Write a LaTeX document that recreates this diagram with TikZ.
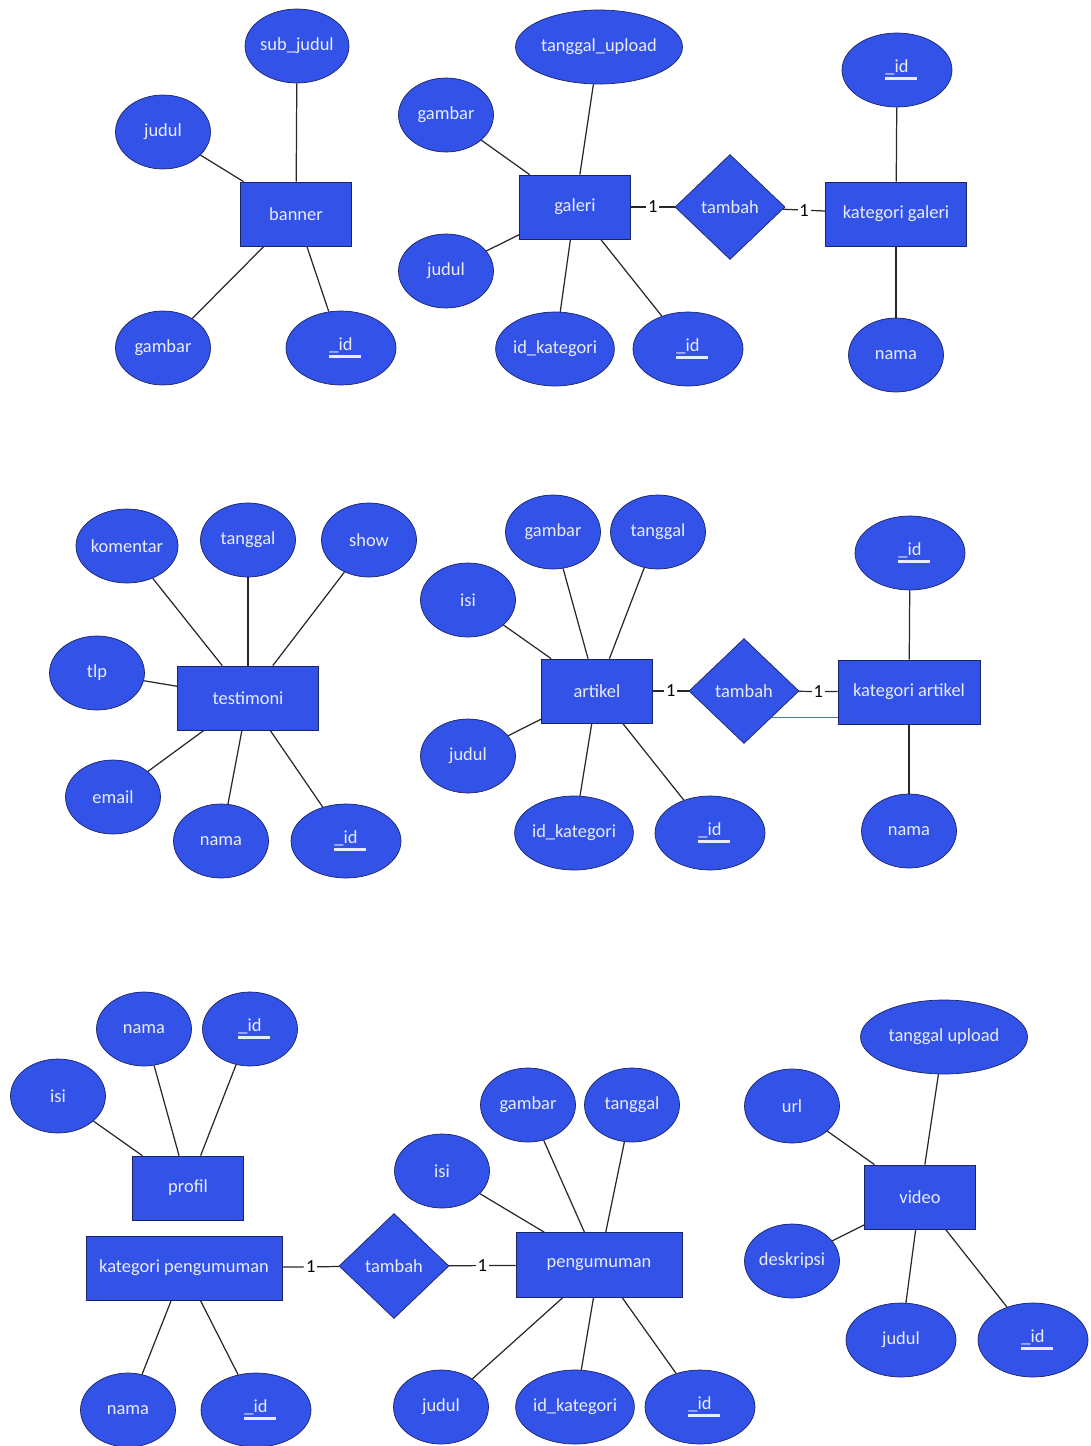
\documentclass[tikz,border=0pt]{standalone}
\usepackage{fontspec}
\setmainfont{Carlito}
\usetikzlibrary{shapes.geometric}

\definecolor{erblue}{RGB}{50,82,232}
\definecolor{erborder}{RGB}{26,36,105}
\definecolor{ertext}{RGB}{232,236,255}
\definecolor{erline}{RGB}{40,40,40}
\definecolor{erteal}{RGB}{70,120,160}

% primary key: underlined with a thick bar
\newcommand{\pkey}[1]{\makebox[0pt][l]{\rule[-4.5pt]{1.7em}{1.8pt}}\_#1}

\begin{document}
\begin{tikzpicture}[
        x=0.02cm, y=-0.02cm,
        font=\fontsize{10.5}{12}\selectfont,
        entity/.style={draw=erborder, fill=erblue, text=ertext, rectangle, minimum width=2.22cm, minimum height=1.28cm},
        attr/.style={draw=erborder, fill=erblue, text=ertext, ellipse, inner sep=0pt, minimum width=1.9cm, minimum height=1.48cm},
        keyattr/.style={attr, minimum width=2.2cm},
        relation/.style={draw=erborder, fill=erblue, text=ertext, diamond, inner sep=0pt, minimum width=2.2cm, minimum height=2.1cm},
        link/.style={draw=erline, line width=0.7pt},
        card/.style={fill=white, inner sep=1pt, text=black}
    ]
        \useasboundingbox (0,0) rectangle (1091,1446);

        % Banner
        \node[entity] (banner) at (296,214) {banner};
        \node[attr] (bsubjudul) at (297,46) {sub\_judul};
        \node[attr] (bjudul) at (163,132) {judul};
        \node[attr] (bgambar) at (163,348) {gambar};
        \node[keyattr] (bid) at (341,348) {\pkey{id}};
        \draw[link] (bsubjudul) -- (banner);
        \draw[link] (bjudul) -- (banner);
        \draw[link] (bgambar) -- (banner);
        \draw[link] (bid) -- (banner);

        % Galeri
        \node[entity] (galeri) at (575,207) {galeri};
        \node[attr, minimum width=3.34cm] (gupload) at (599,47) {tanggal\_upload};
        \node[attr] (ggambar) at (446,115) {gambar};
        \node[attr] (gjudul) at (446,271) {judul};
        \node[keyattr] (gidkat) at (555,349) {id\_kategori};
        \node[keyattr] (gid) at (688,349) {\pkey{id}};
        \draw[link] (gupload) -- (galeri);
        \draw[link] (ggambar) -- (galeri);
        \draw[link] (gjudul) -- (galeri);
        \draw[link] (gidkat) -- (galeri);
        \draw[link] (gid) -- (galeri);

        % Kategori galeri
        \node[relation] (gtambah) at (730,207) {tambah};
        \node[entity, minimum width=2.82cm] (kgaleri) at (896,214) {kategori galeri};
        \node[keyattr] (kgid) at (897,70) {\pkey{id}};
        \node[attr] (kgnama) at (896,355) {nama};
        \draw[link] (galeri) -- node[card] {1} (gtambah);
        \draw[link] (gtambah) -- node[card] {1} (kgaleri);
        \draw[link] (kgid) -- (kgaleri);
        \draw[link] (kgnama) -- (kgaleri);

        % Testimoni
        \node[entity, minimum width=2.82cm] (testimoni) at (248,698) {testimoni};
        \node[attr] (tkomentar) at (127,546) {komentar};
        \node[attr] (ttanggal) at (248,540) {tanggal};
        \node[attr] (tshow) at (369,540) {show};
        \node[attr] (ttlp) at (97,673) {tlp};
        \node[attr] (temail) at (113,797) {email};
        \node[attr] (tnama) at (221,841) {nama};
        \node[keyattr] (tid) at (346,841) {\pkey{id}};
        \draw[link] (tkomentar) -- (testimoni);
        \draw[link] (ttanggal) -- (testimoni);
        \draw[link] (tshow) -- (testimoni);
        \draw[link] (ttlp) -- (testimoni);
        \draw[link] (temail) -- (testimoni);
        \draw[link] (tnama) -- (testimoni);
        \draw[link] (tid) -- (testimoni);

        % Artikel
        \node[entity] (artikel) at (597,691) {artikel};
        \node[attr] (agambar) at (553,532) {gambar};
        \node[attr] (atanggal) at (658,532) {tanggal};
        \node[attr] (aisi) at (468,600) {isi};
        \node[attr] (ajudul) at (468,756) {judul};
        \node[keyattr, minimum width=2.3cm] (aidkat) at (574,833) {id\_kategori};
        \node[keyattr] (aid) at (710,833) {\pkey{id}};
        \draw[link] (agambar) -- (artikel);
        \draw[link] (atanggal) -- (artikel);
        \draw[link] (aisi) -- (artikel);
        \draw[link] (ajudul) -- (artikel);
        \draw[link] (aidkat) -- (artikel);
        \draw[link] (aid) -- (artikel);

        % Kategori artikel
        \node[relation] (atambah) at (744,691) {tambah};
        \node[entity, minimum width=2.84cm] (kartikel) at (909,692) {kategori artikel};
        \node[keyattr] (kaid) at (910,553) {\pkey{id}};
        \node[attr] (kanama) at (909,831) {nama};
        \draw[link] (artikel) -- node[card] {1} (atambah);
        \draw[link] (atambah) -- node[card] {1} (kartikel);
        \draw[erteal, line width=0.6pt] (atambah.south east) -- (atambah.south east -| kartikel.west);
        \draw[link] (kaid) -- (kartikel);
        \draw[link] (kanama) -- (kartikel);

        % Profil
        \node[entity] (profil) at (188,1188) {profil};
        \node[attr] (pnama) at (144,1029) {nama};
        \node[attr] (pid) at (250,1029) {\pkey{id}};
        \node[attr] (pisi) at (58,1096) {isi};
        \draw[link] (pnama) -- (profil);
        \draw[link] (pid) -- (profil);
        \draw[link] (pisi) -- (profil);

        % Kategori pengumuman
        \node[entity, minimum width=3.92cm] (kpengumuman) at (184,1268) {kategori pengumuman};
        \node[attr] (kpnama) at (128,1410) {nama};
        \node[keyattr] (kpid) at (256,1410) {\pkey{id}};
        \draw[link] (kpnama) -- (kpengumuman);
        \draw[link] (kpid) -- (kpengumuman);

        % Pengumuman
        \node[relation] (ptambah) at (394,1266) {tambah};
        \node[entity, minimum width=3.32cm, minimum height=1.3cm] (pengumuman) at (599,1265) {pengumuman};
        \node[attr] (pgisi) at (442,1171) {isi};
        \node[attr] (pggambar) at (528,1105) {gambar};
        \node[attr] (pgtanggal) at (632,1105) {tanggal};
        \node[attr] (pgjudul) at (441,1407) {judul};
        \node[keyattr, minimum width=2.28cm] (pgidkat) at (575,1407) {id\_kategori};
        \node[keyattr] (pgid) at (700,1407) {\pkey{id}};
        \draw[link] (kpengumuman) -- node[card] {1} (ptambah);
        \draw[link] (ptambah) -- node[card] {1} (pengumuman);
        \draw[link] (pgisi) -- (pengumuman);
        \draw[link] (pggambar) -- (pengumuman);
        \draw[link] (pgtanggal) -- (pengumuman);
        \draw[link] (pgjudul) -- (pengumuman);
        \draw[link] (pgidkat) -- (pengumuman);
        \draw[link] (pgid) -- (pengumuman);

        % Video
        \node[entity] (video) at (920,1197) {video};
        \node[attr, minimum width=3.34cm] (vupload) at (944,1037) {tanggal upload};
        \node[attr] (vurl) at (792,1106) {url};
        \node[attr] (vdeskripsi) at (792,1261) {deskripsi};
        \node[keyattr] (vjudul) at (901,1340) {judul};
        \node[keyattr] (vid) at (1033,1340) {\pkey{id}};
        \draw[link] (vupload) -- (video);
        \draw[link] (vurl) -- (video);
        \draw[link] (vdeskripsi) -- (video);
        \draw[link] (vjudul) -- (video);
        \draw[link] (vid) -- (video);
    \end{tikzpicture}
\end{document}
